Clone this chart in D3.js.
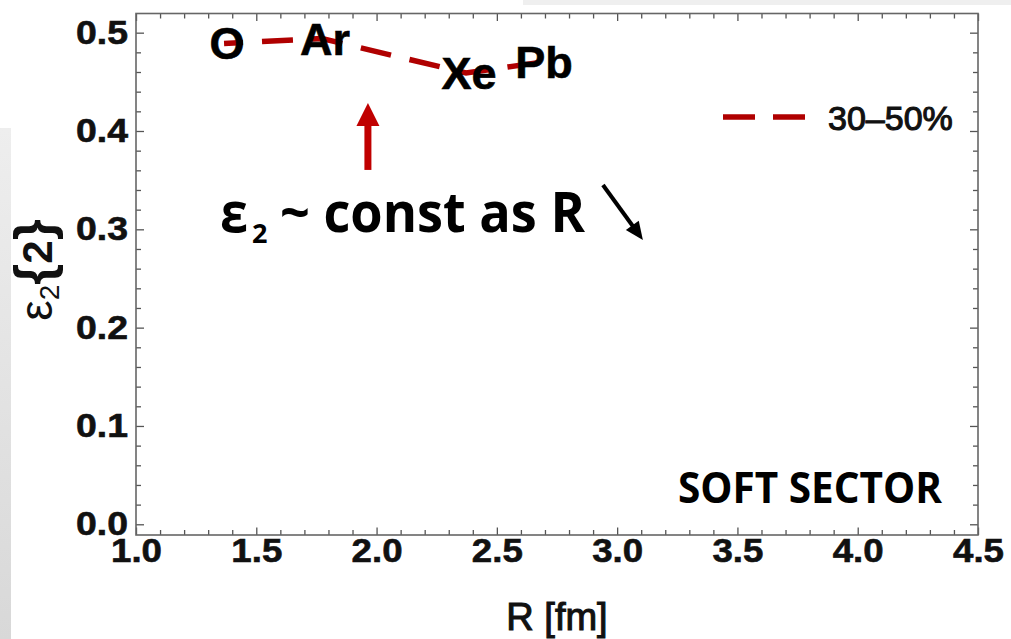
<!DOCTYPE html>
<html>
<head>
<meta charset="utf-8">
<script src="https://cdn.jsdelivr.net/npm/d3@7"></script>
<style>
  html, body { margin: 0; padding: 0; background: #ffffff; }
  svg { display: block; }
</style>
</head>
<body>
<svg id="chart" width="1011" height="639"></svg>
<script>
// Eccentricity eps2{2} vs. nuclear size R, 30-50% centrality
const nuclei = ["O", "Ar", "Xe", "Pb"];
const radius = [1.366, 1.773, 2.372, 2.684];      // R [fm]
const eps2 = [0.489, 0.494, 0.459, 0.470];        // eps2{2}
const seriesLabel = "30\u201350%";

const xMajorTicks = [1.0, 1.5, 2.0, 2.5, 3.0, 3.5, 4.0, 4.5];
const yMajorTicks = [0.0, 0.1, 0.2, 0.3, 0.4, 0.5];
const xMinorTicks = d3.range(10, 46).map(d => d / 10).filter(d => !xMajorTicks.includes(d));
const yMinorTicks = d3.range(0, 26).map(d => d / 50).filter(d => Math.abs(d * 10 - Math.round(d * 10)) > 1e-9);

const frame = { left: 136, right: 978, top: 13.5, bottom: 535 };
const lineColor = "#b00000";

const svg = d3.select("#chart");

// slide background pieces around the figure
const grad = svg.append("defs").append("linearGradient")
  .attr("id", "sidePanel").attr("x1", 0).attr("x2", 0).attr("y1", 0).attr("y2", 1);
grad.append("stop").attr("offset", "0%").attr("stop-color", "#eeeeee");
grad.append("stop").attr("offset", "100%").attr("stop-color", "#d8d8d8");
svg.append("rect").attr("x", 0).attr("y", 128).attr("width", 11).attr("height", 511).attr("fill", "url(#sidePanel)");
svg.append("rect").attr("x", 523).attr("y", 0).attr("width", 488).attr("height", 5).attr("fill", "#efefef");

const x = d3.scaleLinear().domain([1.0, 4.5]).range([frame.left, frame.right]);
const y = d3.scaleLinear().domain([-0.0109, 0.5195]).range([frame.bottom, frame.top]);

const tickFont = "'Liberation Sans', Arial, sans-serif";

function styleAxis(g) {
  g.select(".domain").remove();
  g.selectAll(".tick line").attr("stroke", "#555").attr("stroke-width", 1.3);
}

// bottom axis: majors with labels, minors without
const xb = svg.append("g").attr("transform", `translate(0,${frame.bottom})`)
  .call(d3.axisBottom(x).tickValues(xMajorTicks).tickSize(-7.5).tickPadding(4).tickFormat(d3.format(".1f")));
styleAxis(xb);
xb.selectAll(".tick text")
  .attr("font-family", tickFont).attr("font-weight", "bold").attr("font-size", 33).attr("fill", "#111")
  .attr("stroke", "#111").attr("stroke-width", 0.6)
  .attr("textLength", 51).attr("lengthAdjust", "spacingAndGlyphs");
styleAxis(svg.append("g").attr("transform", `translate(0,${frame.bottom})`)
  .call(d3.axisBottom(x).tickValues(xMinorTicks).tickSize(-5).tickFormat("")));

// top axis (mirror ticks)
styleAxis(svg.append("g").attr("transform", `translate(0,${frame.top})`)
  .call(d3.axisTop(x).tickValues(xMajorTicks).tickSize(-7.5).tickFormat("")));
styleAxis(svg.append("g").attr("transform", `translate(0,${frame.top})`)
  .call(d3.axisTop(x).tickValues(xMinorTicks).tickSize(-5).tickFormat("")));

// left axis
const yl = svg.append("g").attr("transform", `translate(${frame.left},0)`)
  .call(d3.axisLeft(y).tickValues(yMajorTicks).tickSize(-8).tickPadding(8).tickFormat(d3.format(".1f")));
styleAxis(yl);
yl.selectAll(".tick text")
  .attr("font-family", tickFont).attr("font-weight", "bold").attr("font-size", 33).attr("fill", "#111")
  .attr("stroke", "#111").attr("stroke-width", 0.6)
  .attr("textLength", 52).attr("lengthAdjust", "spacingAndGlyphs");
styleAxis(svg.append("g").attr("transform", `translate(${frame.left},0)`)
  .call(d3.axisLeft(y).tickValues(yMinorTicks).tickSize(-5).tickFormat("")));

// right axis (mirror ticks)
styleAxis(svg.append("g").attr("transform", `translate(${frame.right},0)`)
  .call(d3.axisRight(y).tickValues(yMajorTicks).tickSize(-8).tickFormat("")));
styleAxis(svg.append("g").attr("transform", `translate(${frame.right},0)`)
  .call(d3.axisRight(y).tickValues(yMinorTicks).tickSize(-5).tickFormat("")));

// frame
svg.append("rect")
  .attr("x", frame.left).attr("y", frame.top)
  .attr("width", frame.right - frame.left).attr("height", frame.bottom - frame.top)
  .attr("fill", "none").attr("stroke", "#666").attr("stroke-width", 1.6);

// data line
const pts = radius.map((r, i) => [r, eps2[i]]);
svg.append("path")
  .datum(pts)
  .attr("d", d3.line().x(d => x(d[0])).y(d => y(d[1])))
  .attr("fill", "none").attr("stroke", lineColor).attr("stroke-width", 5.5)
  .attr("stroke-dasharray", "31,19").attr("stroke-dashoffset", 12);

// nucleus labels centred on their points
svg.append("g").selectAll("text")
  .data(nuclei)
  .join("text")
  .attr("x", (d, i) => x(radius[i]) + 3)
  .attr("y", (d, i) => y(eps2[i]) + 16)
  .attr("text-anchor", "middle")
  .attr("font-family", tickFont).attr("font-weight", "bold").attr("font-size", 45)
  .attr("fill", "#000").attr("stroke", "#000").attr("stroke-width", 0.6)
  .text(d => d);

// legend
const legX = 723, legY = 117;
svg.append("line")
  .attr("x1", legX).attr("x2", legX + 84).attr("y1", legY).attr("y2", legY)
  .attr("stroke", lineColor).attr("stroke-width", 5.5).attr("stroke-dasharray", "32,18");
svg.append("text")
  .attr("x", legX + 105).attr("y", legY + 13)
  .attr("font-family", tickFont).attr("font-size", 34)
  .attr("fill", "#111").attr("stroke", "#111").attr("stroke-width", 1.1)
  .text(seriesLabel);

// axis titles
svg.append("text")
  .attr("x", (frame.left + frame.right) / 2).attr("y", 630)
  .attr("text-anchor", "middle")
  .attr("font-family", tickFont).attr("font-size", 38)
  .attr("fill", "#111").attr("stroke", "#111").attr("stroke-width", 1.1)
  .text("R [fm]");

const yTitle = svg.append("text")
  .attr("transform", "translate(52,270) rotate(-90)")
  .attr("text-anchor", "middle")
  .attr("font-family", tickFont).attr("fill", "#111");
yTitle.append("tspan").attr("font-size", 46).text("\u03b5");
yTitle.append("tspan").attr("font-size", 28).attr("dy", 7).text("2");
yTitle.append("tspan").attr("font-size", 54).attr("font-weight", "bold").attr("dy", -7).text("{");
yTitle.append("tspan").attr("font-size", 42).attr("font-weight", "bold").text("2");
yTitle.append("tspan").attr("font-size", 54).attr("font-weight", "bold").text("}");

// annotations
const noteFont = "'Open Sans', 'Noto Sans', sans-serif";

// red arrow pointing up at the curve
const redTail = [1.964, 0.3604], redTip = [1.964, 0.4285];
svg.append("line")
  .attr("x1", x(redTail[0])).attr("x2", x(redTail[0]))
  .attr("y1", y(redTail[1])).attr("y2", y(redTip[1]) + 20)
  .attr("stroke", "#c00000").attr("stroke-width", 7);
svg.append("path")
  .attr("d", `M${x(redTip[0])},${y(redTip[1])} l11.5,23 l-23,0 Z`)
  .attr("fill", "#c00000");

const note = svg.append("g");
note.append("text")
  .attr("x", x(1.349)).attr("y", y(0.2973))
  .attr("font-family", noteFont).attr("font-weight", "bold").attr("font-size", 56)
  .attr("textLength", 28).attr("lengthAdjust", "spacingAndGlyphs")
  .text("\u03b5");
note.append("text")
  .attr("x", x(1.349) + 32).attr("y", y(0.2973) + 11)
  .attr("font-family", noteFont).attr("font-weight", "bold").attr("font-size", 27)
  .text("2");
note.append("text")
  .attr("x", x(1.349) + 60).attr("y", y(0.2973))
  .attr("font-family", noteFont).attr("font-weight", "bold").attr("font-size", 56)
  .attr("textLength", 305).attr("lengthAdjust", "spacingAndGlyphs")
  .text("~ const as R");

// black arrow pointing down-right
const bTail = [2.941, 0.3451], bTip = [3.107, 0.2892];
const bx0 = x(bTail[0]), by0 = y(bTail[1]), bx1 = x(bTip[0]), by1 = y(bTip[1]);
const ang = Math.atan2(by1 - by0, bx1 - bx0);
const headLen = 18, headHalf = 8;
const baseX = bx1 - headLen * Math.cos(ang), baseY = by1 - headLen * Math.sin(ang);
svg.append("line")
  .attr("x1", bx0).attr("y1", by0).attr("x2", baseX + 2 * Math.cos(ang)).attr("y2", baseY + 2 * Math.sin(ang))
  .attr("stroke", "#000").attr("stroke-width", 4);
svg.append("path")
  .attr("d", `M${bx1},${by1} L${baseX - headHalf * Math.sin(ang)},${baseY + headHalf * Math.cos(ang)} L${baseX + headHalf * Math.sin(ang)},${baseY - headHalf * Math.cos(ang)} Z`)
  .attr("fill", "#000");

svg.append("text")
  .attr("x", x(3.253)).attr("y", y(0.0217))
  .attr("font-family", noteFont).attr("font-weight", "bold").attr("font-size", 43)
  .attr("textLength", 264).attr("lengthAdjust", "spacingAndGlyphs")
  .text("SOFT SECTOR");
</script>
</body>
</html>
